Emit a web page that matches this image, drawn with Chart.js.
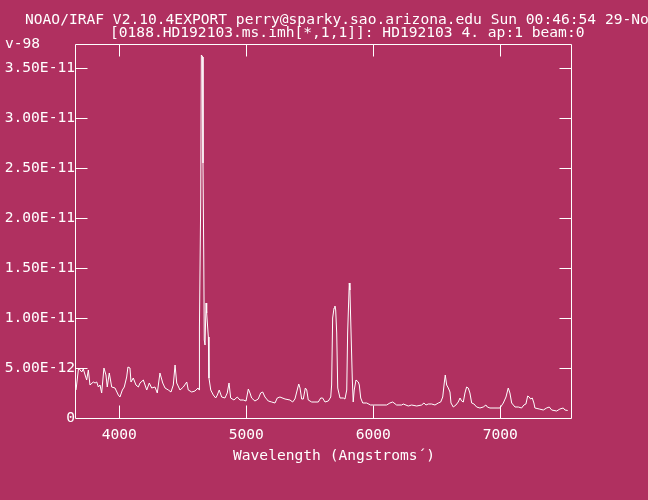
<!DOCTYPE html>
<html lang="en">
<head>
<meta charset="UTF-8">
<title>HD192103 spectrum</title>
<script src="https://cdn.jsdelivr.net/npm/chart.js@4.4.0/dist/chart.umd.min.js"></script>
<style>
  html, body { margin: 0; padding: 0; background: #b03060; }
  canvas { display: block; }
</style>
</head>
<body>
<canvas id="spectrum" width="648" height="500"></canvas>
<script>
// wavelength in Angstroms, flux in units of 1e-12
const wavelength = [
  3659, 3679, 3704, 3716, 3743, 3756, 3769, 3795, 3809, 3822, 3835, 3848, 3861, 3879, 3895, 3905,
  3921, 3940, 3966, 3992, 4005, 4024, 4039, 4058, 4068, 4084, 4092, 4110, 4131, 4150, 4163, 4189,
  4216, 4236, 4255, 4281, 4299, 4320, 4342, 4360, 4386, 4407, 4425, 4439, 4452, 4478, 4504, 4531,
  4543, 4570, 4596, 4620, 4629, 4631, 4641, 4646, 4657, 4659, 4665, 4669, 4675, 4683, 4688, 4701,
  4706, 4720, 4740, 4759, 4772, 4787, 4806, 4832, 4850, 4864, 4877, 4903, 4929, 4950, 4976, 4998,
  5016, 5029, 5042, 5068, 5094, 5113, 5129, 5147, 5173, 5200, 5226, 5244, 5265, 5305, 5344, 5365,
  5383, 5401, 5413, 5423, 5436, 5449, 5465, 5476, 5488, 5515, 5541, 5567, 5586, 5601, 5620, 5646,
  5665, 5672, 5680, 5691, 5698, 5704, 5712, 5720, 5738, 5764, 5777, 5791, 5798, 5811, 5816, 5824,
  5835, 5842, 5850, 5864, 5882, 5890, 5901, 5917, 5948, 5979, 6000, 6105, 6131, 6153, 6184, 6224,
  6236, 6276, 6302, 6342, 6381, 6399, 6415, 6433, 6460, 6486, 6512, 6531, 6547, 6559, 6567, 6578,
  6591, 6604, 6612, 6630, 6651, 6669, 6683, 6696, 6709, 6722, 6735, 6748, 6761, 6775, 6793, 6814,
  6840, 6866, 6887, 6898, 6919, 6998, 7024, 7045, 7055, 7063, 7076, 7090, 7116, 7142, 7168, 7186,
  7202, 7216, 7228, 7239, 7252, 7265, 7273, 7307, 7339, 7365, 7386, 7405, 7444, 7470, 7496, 7509,
  7531
]
const flux = [
  2.8, 5.0, 4.6, 4.9, 3.8, 4.8, 3.3, 3.6, 3.5, 3.6, 3.1, 3.3, 2.5, 5.0, 4.3, 3.1,
  4.5, 3.1, 3.0, 2.3, 2.1, 2.8, 3.1, 4.1, 5.1, 5.0, 3.6, 4.0, 3.3, 3.1, 3.5, 3.8,
  2.8, 3.5, 3.0, 3.1, 2.5, 4.5, 3.5, 3.0, 2.8, 2.6, 3.3, 5.3, 3.5, 2.8, 3.1, 3.6,
  2.8, 2.6, 2.7, 3.0, 2.8, 9.1, 21.8, 36.3, 36.1, 25.5, 16.1, 7.8, 7.3, 11.5, 10.5, 8.1,
  4.0, 2.8, 2.3, 2.0, 2.3, 2.8, 2.1, 2.0, 2.5, 3.5, 2.0, 1.8, 2.1, 1.8, 1.8, 1.7,
  2.9, 2.5, 2.0, 1.7, 1.9, 2.5, 2.6, 2.1, 1.7, 1.6, 1.5, 2.0, 2.1, 1.9, 1.8, 1.6,
  1.9, 2.8, 3.4, 3.0, 1.9, 1.9, 3.0, 2.8, 1.8, 1.6, 1.6, 1.6, 2.0, 2.0, 1.6, 1.7,
  2.1, 3.3, 10.0, 11.0, 11.2, 10.8, 8.5, 3.0, 2.0, 2.0, 1.9, 2.8, 8.5, 13.5, 12.8, 9.0,
  3.8, 1.6, 2.8, 3.8, 3.6, 3.3, 2.0, 1.5, 1.5, 1.3, 1.3, 1.3, 1.5, 1.6, 1.3, 1.3,
  1.4, 1.2, 1.3, 1.2, 1.3, 1.5, 1.3, 1.4, 1.4, 1.3, 1.5, 1.6, 2.1, 3.5, 4.3, 3.3,
  3.0, 2.6, 1.5, 1.1, 1.3, 1.6, 2.0, 1.7, 1.6, 2.5, 3.1, 3.0, 2.5, 1.5, 1.4, 1.1,
  1.0, 1.1, 1.3, 1.1, 1.0, 1.0, 1.5, 2.1, 2.6, 3.0, 2.5, 1.5, 1.1, 1.1, 1.0, 1.3,
  1.4, 2.2, 2.1, 1.9, 2.0, 1.5, 1.0, 0.9, 0.8, 1.0, 1.1, 0.8, 0.7, 0.9, 1.0, 0.8,
  0.75
]
const xTicks = [4000, 5000, 6000, 7000]
const yTicks = [0, 5, 10, 15, 20, 25, 30, 35]
const headerLines = [
  'NOAO/IRAF V2.10.4EXPORT perry@sparky.sao.arizona.edu Sun 00:46:54 29-No',
  '[0188.HD192103.ms.imh[*,1,1]]: HD192103 4. ap:1 beam:0',
  'v-98'
]
const xTitle = 'Wavelength (Angstroms\u00b4)'

const BG = '#b03060'
const FG = '#ffffff'
const FONT = 'DejaVu Sans Mono'
const FONT_SIZE = 14.6

// background, frame, inward tick marks and the IRAF header text
const irafFrame = {
  id: 'irafFrame',
  beforeDraw(chart) {
    const c = chart.ctx
    c.save()
    c.fillStyle = BG
    c.fillRect(0, 0, chart.width, chart.height)
    c.restore()
  },
  afterDatasetsDraw(chart) {
    const c = chart.ctx
    const a = chart.chartArea
    const xs = chart.scales.x
    const ys = chart.scales.y
    const L = Math.round(a.left) + 0.5, R = Math.round(a.right) - 0.5
    const T = Math.round(a.top) + 0.5, B = Math.round(a.bottom) + 0.5
    c.save()
    c.strokeStyle = FG
    c.lineWidth = 1
    c.beginPath()
    c.rect(L, T, R - L, B - T)
    xTicks.forEach(v => {
      const px = Math.round(xs.getPixelForValue(v)) + 0.5
      c.moveTo(px, B); c.lineTo(px, B - 13)
      c.moveTo(px, T); c.lineTo(px, T + 12)
    })
    yTicks.forEach(v => {
      if (v === 0) return
      const py = Math.round(ys.getPixelForValue(v)) + 0.5
      c.moveTo(L, py); c.lineTo(L + 12, py)
      c.moveTo(R, py); c.lineTo(R - 12, py)
    })
    c.stroke()

    c.fillStyle = FG
    c.font = FONT_SIZE + 'px "' + FONT + '"'
    c.textBaseline = 'alphabetic'
    c.textAlign = 'left'
    c.fillText(headerLines[0], 25, 23.5)
    c.fillText(headerLines[1], 110, 37)
    c.fillText(headerLines[2], 5, 48)
    c.fillText(xTitle, 233, 459.5)
    c.restore()
  }
}

const ctx = document.getElementById('spectrum').getContext('2d')
new Chart(ctx, {
  type: 'line',
  data: {
    labels: wavelength,
    datasets: [{
      data: wavelength.map((w, i) => ({ x: w, y: flux[i] })),
      borderColor: FG,
      borderWidth: 1,
      pointRadius: 0,
      tension: 0,
      fill: false
    }]
  },
  options: {
    responsive: false,
    animation: false,
    layout: { padding: { left: 0, top: 44, right: 76, bottom: 0 } },
    plugins: {
      legend: { display: false },
      tooltip: { enabled: false }
    },
    scales: {
      x: {
        type: 'linear',
        min: 3651,
        max: 7565,
        grid: { display: false, drawTicks: false },
        border: { display: false },
        afterBuildTicks: s => { s.ticks = xTicks.map(v => ({ value: v })) },
        afterFit: s => { s.height = 82 },
        ticks: {
          color: FG,
          font: { family: FONT, size: FONT_SIZE },
          padding: 8,
          maxRotation: 0,
          autoSkip: false,
          callback: v => String(v)
        }
      },
      y: {
        type: 'linear',
        min: 0,
        max: 37.4,
        grid: { display: false, drawTicks: false },
        border: { display: false },
        afterBuildTicks: s => { s.ticks = yTicks.map(v => ({ value: v })) },
        afterFit: s => { s.width = 75 },
        ticks: {
          color: FG,
          font: { family: FONT, size: FONT_SIZE },
          padding: 0,
          autoSkip: false,
          callback: v => v === 0 ? '0' : (v * 1e-12).toExponential(2).toUpperCase()
        }
      }
    }
  },
  plugins: [irafFrame]
})
</script>
</body>
</html>
